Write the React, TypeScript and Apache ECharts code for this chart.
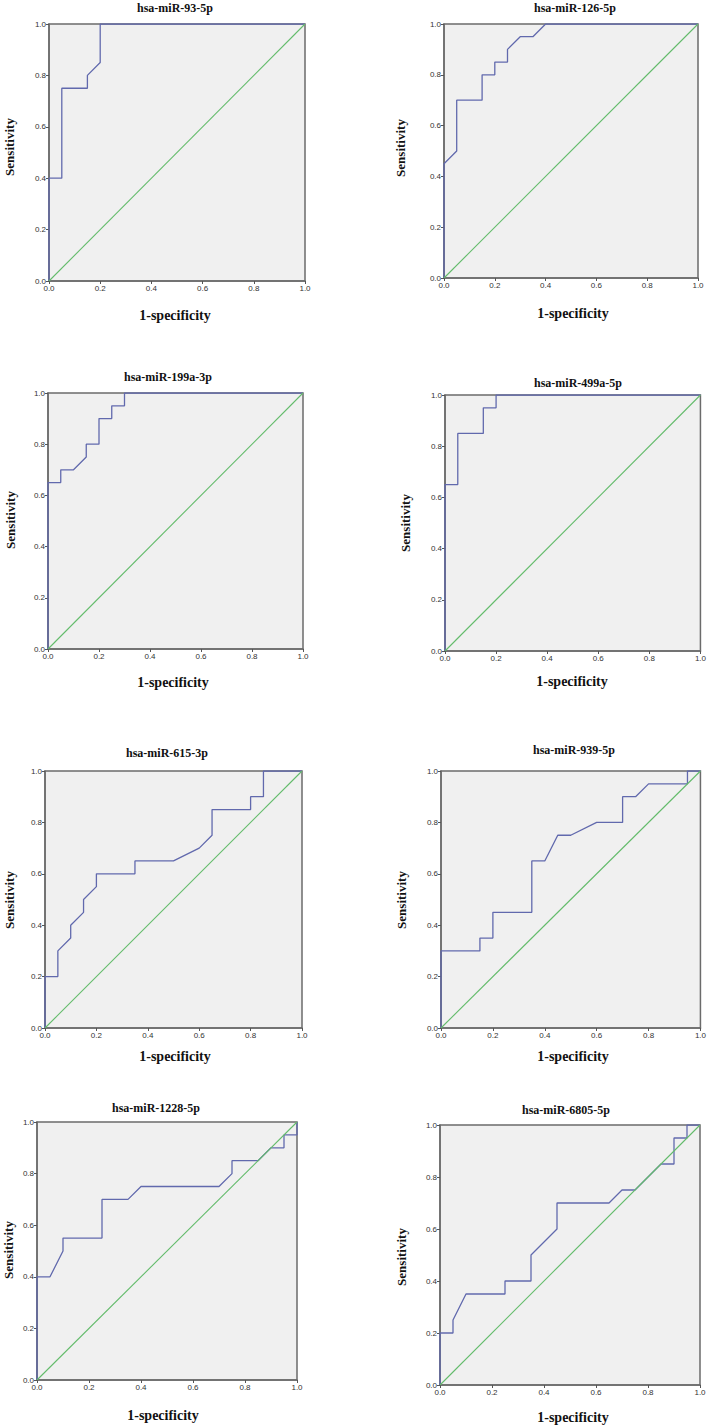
import React, { useEffect, useRef } from "react";
import * as echarts from "echarts";

// ---- Data ----
const titles = [
  "hsa-miR-93-5p",
  "hsa-miR-126-5p",
  "hsa-miR-199a-3p",
  "hsa-miR-499a-5p",
  "hsa-miR-615-3p",
  "hsa-miR-939-5p",
  "hsa-miR-1228-5p",
  "hsa-miR-6805-5p",
];

const xAxisTitle = "1-specificity";
const yAxisTitle = "Sensitivity";
const tickValues = [0, 0.2, 0.4, 0.6, 0.8, 1.0];

const refX = [0, 1];
const refY = [0, 1];

const fpr93 = [0, 0, 0.05, 0.05, 0.15, 0.15, 0.2, 0.2, 1];
const tpr93 = [0, 0.4, 0.4, 0.75, 0.75, 0.8, 0.85, 1.0, 1.0];

const fpr126 = [0, 0, 0.05, 0.05, 0.15, 0.15, 0.2, 0.2, 0.25, 0.25, 0.3, 0.35, 0.4, 1];
const tpr126 = [0, 0.45, 0.5, 0.7, 0.7, 0.8, 0.8, 0.85, 0.85, 0.9, 0.95, 0.95, 1.0, 1.0];

const fpr199 = [0, 0, 0.05, 0.05, 0.1, 0.15, 0.15, 0.2, 0.2, 0.25, 0.25, 0.3, 0.3, 1];
const tpr199 = [0, 0.65, 0.65, 0.7, 0.7, 0.75, 0.8, 0.8, 0.9, 0.9, 0.95, 0.95, 1.0, 1.0];

const fpr499 = [0, 0, 0.05, 0.05, 0.15, 0.15, 0.2, 0.2, 1];
const tpr499 = [0, 0.65, 0.65, 0.85, 0.85, 0.95, 0.95, 1.0, 1.0];

const fpr615 = [0, 0, 0.05, 0.05, 0.1, 0.1, 0.15, 0.15, 0.2, 0.2, 0.35, 0.35, 0.5, 0.6, 0.65, 0.65, 0.8, 0.8, 0.85, 0.85, 1];
const tpr615 = [0, 0.2, 0.2, 0.3, 0.35, 0.4, 0.45, 0.5, 0.55, 0.6, 0.6, 0.65, 0.65, 0.7, 0.75, 0.85, 0.85, 0.9, 0.9, 1.0, 1.0];

const fpr939 = [0, 0, 0.15, 0.15, 0.2, 0.2, 0.35, 0.35, 0.4, 0.45, 0.5, 0.6, 0.7, 0.7, 0.75, 0.8, 0.95, 0.95, 1];
const tpr939 = [0, 0.3, 0.3, 0.35, 0.35, 0.45, 0.45, 0.65, 0.65, 0.75, 0.75, 0.8, 0.8, 0.9, 0.9, 0.95, 0.95, 1.0, 1.0];

const fpr1228 = [0, 0, 0.05, 0.1, 0.1, 0.25, 0.25, 0.35, 0.4, 0.7, 0.75, 0.75, 0.85, 0.9, 0.95, 0.95, 1.0, 1.0];
const tpr1228 = [0, 0.4, 0.4, 0.5, 0.55, 0.55, 0.7, 0.7, 0.75, 0.75, 0.8, 0.85, 0.85, 0.9, 0.9, 0.95, 0.95, 1.0];

const fpr6805 = [0, 0, 0.05, 0.05, 0.1, 0.25, 0.25, 0.35, 0.35, 0.45, 0.45, 0.65, 0.7, 0.75, 0.85, 0.9, 0.9, 0.95, 0.95, 1];
const tpr6805 = [0, 0.2, 0.2, 0.25, 0.35, 0.35, 0.4, 0.4, 0.5, 0.6, 0.7, 0.7, 0.75, 0.75, 0.85, 0.85, 0.95, 0.95, 1.0, 1.0];

const rocX = [fpr93, fpr126, fpr199, fpr499, fpr615, fpr939, fpr1228, fpr6805];
const rocY = [tpr93, tpr126, tpr199, tpr499, tpr615, tpr939, tpr1228, tpr6805];

// ---- Layout (pixels) ----
const grids = [
  { left: 49, top: 24, width: 256, height: 257 },
  { left: 444, top: 24, width: 254, height: 254 },
  { left: 48, top: 393, width: 255, height: 256 },
  { left: 445, top: 395, width: 256, height: 256 },
  { left: 45, top: 771, width: 257, height: 257 },
  { left: 441, top: 771, width: 262, height: 257 },
  { left: 37, top: 1122, width: 260, height: 258 },
  { left: 440, top: 1125, width: 260, height: 260 },
];
const titlePos = [
  [175, 8], [575, 8], [168, 377], [578, 383], [167, 753], [574, 750], [156, 1108], [566, 1110],
];
const yNamePos = [
  [9, 147], [400, 148], [10, 520], [405, 523], [9, 900], [401, 900], [8, 1250], [401, 1257],
];
const xNamePos = [
  [175, 315], [573, 313], [173, 682], [572, 681], [175, 1056], [573, 1056], [163, 1415], [573, 1417],
];

const BLUE = "#6169ad";
const GREEN = "#63bb6b";
const FRAME = "#6b6b6b";

export default function App() {
  const ref = useRef<HTMLDivElement>(null);
  useEffect(() => {
    if (!ref.current) return;
    const chart = echarts.init(ref.current, undefined, { renderer: "svg" });
    const gridOpts: any[] = [];
    const xAxes: any[] = [];
    const yAxes: any[] = [];
    const series: any[] = [];
    const graphics: any[] = [];
    const fmt = (v: number) => v.toFixed(1);
    grids.forEach((g, i) => {
      gridOpts.push({
        ...g,
        show: true,
        backgroundColor: "#f0f0f0",
        borderColor: FRAME,
        borderWidth: 1.5,
      });
      const axisCommon = {
        type: "value",
        gridIndex: i,
        min: 0,
        max: 1,
        interval: 0.2,
        splitLine: { show: false },
        axisLine: { show: true, lineStyle: { color: FRAME, width: 1.5 } },
        axisTick: { show: true, length: 3, lineStyle: { color: "#555" } },
        axisLabel: {
          formatter: fmt,
          fontSize: 8,
          color: "#333",
          fontFamily: "Liberation Sans, Arial, sans-serif",
          margin: 3,
          customValues: tickValues,
        },
      };
      xAxes.push({ ...axisCommon, position: "bottom" });
      yAxes.push({ ...axisCommon, position: "left" });
      series.push({
        type: "line",
        xAxisIndex: i,
        yAxisIndex: i,
        data: rocX[i].map((x, k) => [x, rocY[i][k]]),
        showSymbol: false,
        symbol: "none",
        lineStyle: { color: BLUE, width: 1.3 },
        z: 3,
        silent: true,
      });
      series.push({
        type: "line",
        xAxisIndex: i,
        yAxisIndex: i,
        data: refX.map((x, k) => [x, refY[k]]),
        showSymbol: false,
        symbol: "none",
        lineStyle: { color: GREEN, width: 1.1 },
        z: 4,
        silent: true,
      });
      graphics.push({
        type: "text",
        x: titlePos[i][0],
        y: titlePos[i][1],
        style: {
          text: titles[i],
          font: "bold 12px 'Liberation Serif', 'Times New Roman', serif",
          fill: "#111",
          align: "center",
          verticalAlign: "middle",
        },
      });
      graphics.push({
        type: "text",
        x: yNamePos[i][0],
        y: yNamePos[i][1],
        rotation: Math.PI / 2,
        style: {
          text: yAxisTitle,
          font: "bold 13px 'Liberation Serif', 'Times New Roman', serif",
          fill: "#111",
          align: "center",
          verticalAlign: "middle",
        },
      });
      graphics.push({
        type: "text",
        x: xNamePos[i][0],
        y: xNamePos[i][1],
        style: {
          text: xAxisTitle,
          font: "bold 14px 'Liberation Serif', 'Times New Roman', serif",
          fill: "#111",
          align: "center",
          verticalAlign: "middle",
        },
      });
    });
    chart.setOption({
      animation: false,
      backgroundColor: "#ffffff",
      grid: gridOpts,
      xAxis: xAxes,
      yAxis: yAxes,
      series,
      graphic: graphics,
    });
    return () => chart.dispose();
  }, []);
  return (
    <div
      ref={ref}
      style={{ position: "absolute", left: 0, top: 0, width: 709, height: 1426 }}
    />
  );
}
